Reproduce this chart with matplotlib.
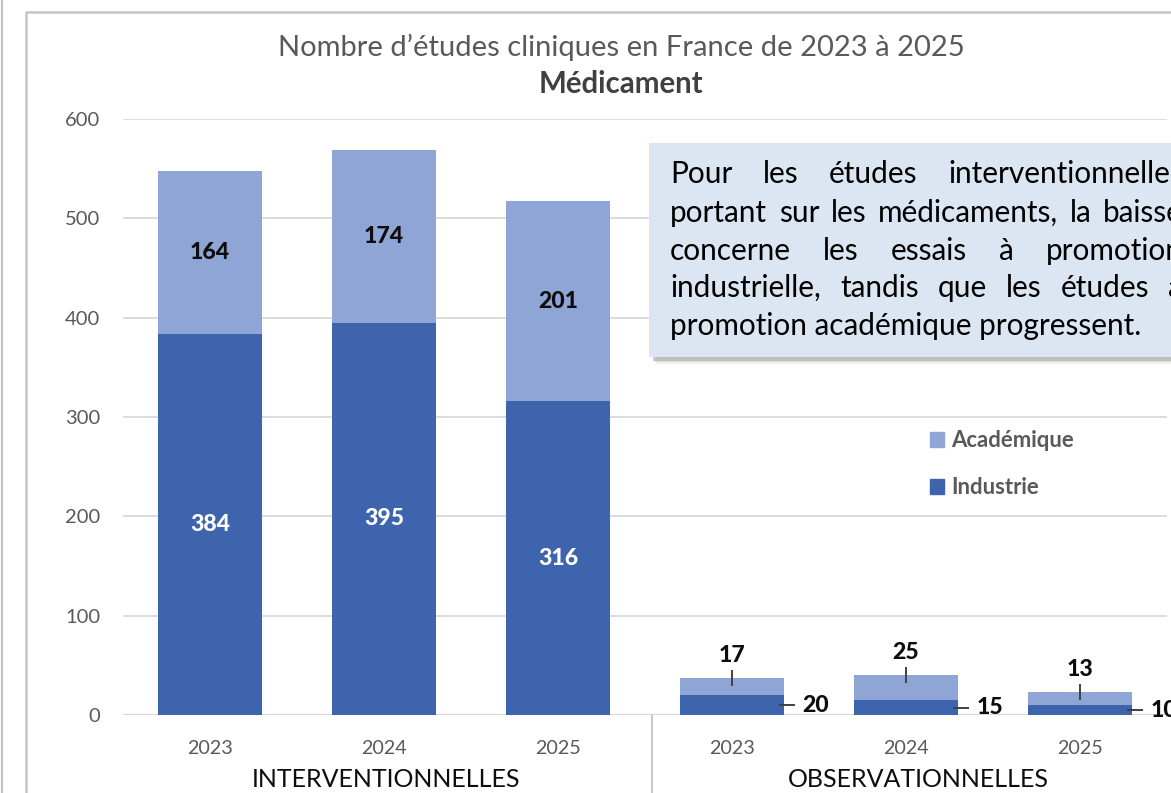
import matplotlib
matplotlib.use("Agg")
import matplotlib.pyplot as plt
from matplotlib.patches import Rectangle, Patch
from matplotlib.lines import Line2D
from matplotlib.transforms import offset_copy

# ---------------- data ----------------
years = ["2023", "2024", "2025", "2023", "2024", "2025"]
groups = ["INTERVENTIONNELLES", "OBSERVATIONNELLES"]
industrie = [384, 395, 316, 20, 15, 10]
academique = [164, 174, 201, 17, 25, 13]
title = "Nombre d\u2019études cliniques en France de 2023 à 2025"
subtitle = "Médicament"
box_lines = [
    "Pour les études interventionnelles",
    "portant sur les médicaments, la baisse",
    "concerne les essais à promotion",
    "industrielle, tandis que les études à",
    "promotion académique progressent.",
]

FONT = ["Lato", "DejaVu Sans"]
C_IND = "#3D64AD"
C_ACA = "#8FA5D6"
GRAY = "#595959"
GRID = "#D9D9D9"

W, H = 1171, 793
fig = plt.figure(figsize=(W / 100, H / 100), dpi=100)
renderer = fig.canvas.get_renderer()


def P(x, y):
    """pixel (top-left origin) -> figure fraction"""
    return x / W, 1 - y / H


def size_for(s, target, weight="normal"):
    t = fig.text(0, 0, s, fontsize=10, weight=weight, family=FONT)
    w = t.get_window_extent(renderer).width
    t.remove()
    return 10 * target / w


ax = fig.add_axes([123 / W, (H - 715) / H, (1167 - 123) / W, (715 - 119) / H])
x = list(range(len(years)))
bw = 0.592
ax.bar(x, industrie, bw, color=C_IND, zorder=2, label="Industrie")
ax.bar(x, academique, bw, bottom=industrie, color=C_ACA, zorder=2, label="Académique")
ax.set_xlim(-0.5, 5.5)
ax.set_ylim(0, 600)
for s in ax.spines.values():
    s.set_visible(False)
ax.set_yticks(range(0, 601, 100))
ax.yaxis.grid(True, color=GRID, lw=1.3, zorder=0)
ax.set_axisbelow(True)
ax.axhline(0, color=GRID, lw=1.6, zorder=1)
fs_tick = size_for("600", 35)
ax.tick_params(axis="y", length=0, pad=16.5, labelsize=fs_tick, labelcolor=GRAY)
for lab in ax.get_yticklabels():
    lab.set_family(FONT)
ax.set_xticks([])

# year labels and group labels
tr_year = offset_copy(ax.get_xaxis_transform(), fig=fig, x=0, y=-39, units="dots")
fs_year = size_for("2023", 46)
for xi, yr in zip(x, years):
    ax.text(xi, 0, yr, transform=tr_year, ha="center", va="baseline",
            fontsize=fs_year, color=GRAY, family=FONT)
tr_grp = offset_copy(ax.get_xaxis_transform(), fig=fig, x=0, y=-72, units="dots")
fs_grp = size_for(groups[0], 266)
ax.text(1.01, 0, groups[0], transform=tr_grp, ha="center", va="baseline",
        fontsize=fs_grp, color="#0D0D0D", family=FONT)
ax.text(4.07, 0, groups[1], transform=tr_grp, ha="center", va="baseline",
        fontsize=fs_grp, color="#0D0D0D", family=FONT)
# group separator
ax.plot([2.54, 2.54], [0, -0.14], transform=ax.get_xaxis_transform(),
        color="#C8C8C8", lw=1.4, clip_on=False)

# value labels
VW = 900
fs_val = size_for("164", 40, VW)
for i in range(3):
    ax.text(x[i], industrie[i] + academique[i] / 2, str(academique[i]), ha="center",
            va="center", fontsize=fs_val, weight=VW, color="#0D0D0D", family=FONT, zorder=4)
    ax.text(x[i], industrie[i] / 2, str(industrie[i]), ha="center", va="center",
            fontsize=fs_val, weight=VW, color="white", family=FONT, zorder=4)
for i in range(3, 6):
    top = industrie[i] + academique[i]
    ax.plot([x[i], x[i]], [top - 7, top + 7], color="#404040", lw=1.4, zorder=4)
    tr_up = offset_copy(ax.transData, fig=fig, x=0, y=23, units="dots")
    ax.text(x[i], top, str(academique[i]), transform=tr_up, ha="center", va="center",
            fontsize=fs_val, weight=VW, color="#0D0D0D", family=FONT, zorder=4)
    xr = x[i] + bw / 2
    ax.plot([xr - 0.023, xr + 0.063], [industrie[i] / 2] * 2, color="#404040", lw=1.4,
            zorder=4, clip_on=False)
    ax.text(xr + 0.11, industrie[i] / 2, str(industrie[i]), ha="left", va="center",
            fontsize=fs_val, weight=VW, color="#0D0D0D", family=FONT, zorder=4,
            clip_on=False)

# legend
fs_leg = size_for("Académique", 123, "bold")
handles = [Patch(color=C_ACA, label="Académique"), Patch(color=C_IND, label="Industrie")]
leg = ax.legend(handles=handles, loc="upper left", bbox_to_anchor=P(930, 430),
                bbox_transform=fig.transFigure, frameon=False, borderpad=0,
                borderaxespad=0, handlelength=0.65, handleheight=0.65,
                handletextpad=0.3, labelspacing=1.2,
                prop=dict(family=FONT, weight="bold", size=fs_leg))
for t in leg.get_texts():
    t.set_color(GRAY)

# titles
fs_title = size_for(title, 686)
fig.text(*P(621, 56), title, ha="center", va="baseline", fontsize=fs_title,
         color=GRAY, family=FONT)
fs_sub = size_for(subtitle, 166, "bold")
fig.text(*P(621, 93), subtitle, ha="center", va="baseline", fontsize=fs_sub,
         weight="bold", color="#404040", family=FONT)

# chart frame
fig.add_artist(Line2D([25.5 / W, 25.5 / W, 1], [0, 1 - 12 / H, 1 - 12 / H],
                      transform=fig.transFigure, color="#C4C4C4", lw=1.8))
fig.add_artist(Line2D([1.5 / W, 1.5 / W], [0, 1], transform=fig.transFigure,
                      color="#C4C4C4", lw=1.6))

# text box with shadow
bx0, by0, bx1, by1 = 649, 143, 1200, 357
for k, a in [(7, 0.10), (5, 0.18), (3.5, 0.30)]:
    fig.add_artist(Rectangle(P(bx0 + k, by1 + k), (bx1 - bx0) / W, (by1 - by0) / H,
                             transform=fig.transFigure, facecolor="#7F7F7F",
                             edgecolor="none", alpha=a, zorder=5))
fig.add_artist(Rectangle(P(bx0, by1), (bx1 - bx0) / W, (by1 - by0) / H,
                         transform=fig.transFigure, facecolor="#DCE6F2",
                         edgecolor="none", zorder=6))
fs_box = size_for(box_lines[-1], 473)
L, R = 670, 1183
baselines = [183, 222, 260, 297, 335]
for li, (line, yb) in enumerate(zip(box_lines, baselines)):
    words = line.split(" ")
    if li == len(box_lines) - 1:
        fig.text(*P(L, yb), line, ha="left", va="baseline", fontsize=fs_box,
                 color="black", family=FONT, zorder=7)
        continue
    widths = []
    for w_ in words:
        t = fig.text(0, 0, w_, fontsize=fs_box, family=FONT)
        widths.append(t.get_window_extent(renderer).width)
        t.remove()
    gap = (R - L - sum(widths)) / (len(words) - 1)
    xpos = L
    for w_, wd in zip(words, widths):
        fig.text(*P(xpos, yb), w_, ha="left", va="baseline", fontsize=fs_box,
                 color="black", family=FONT, zorder=7)
        xpos += wd + gap

fig.savefig("out.png", dpi=100)
